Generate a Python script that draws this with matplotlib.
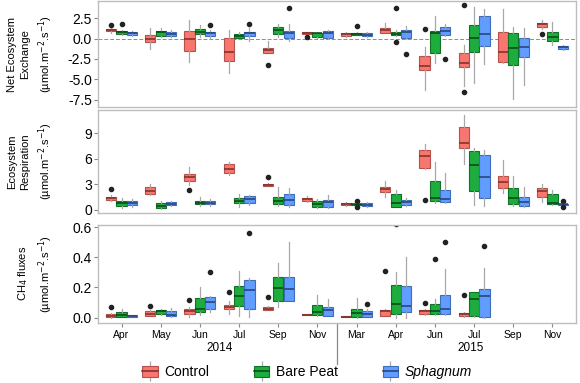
import matplotlib
matplotlib.use("Agg")
import matplotlib.pyplot as plt
from matplotlib.patches import Patch
from matplotlib.lines import Line2D
from matplotlib.legend_handler import HandlerTuple

plt.rcParams['font.family'] = ['Liberation Sans', 'DejaVu Sans']

months = ["Apr", "May", "Jun", "Jul", "Sep", "Nov", "Mar", "Apr", "Jun", "Jul", "Sep", "Nov"]
years = ["2014", "2015"]
treatments = ["Control", "Bare Peat", "Sphagnum"]

# each box: (whisker low, q1, median, q3, whisker high)
nee_control = [(0.63, 0.9, 1.07, 1.2, 1.44), (-1.32, -0.46, -0.02, 0.39, 1.24), (-2.83, -1.52, -0.06, 0.91, 2.26),
               (-4.17, -2.74, -1.68, 0.02, 1.04), (-1.8, -1.73, -1.4, -1.12, -0.3), (0.5, 0.55, 0.63, 0.75, 0.85),
               (0.2, 0.3, 0.5, 0.67, 0.8), (0.63, 0.71, 1.04, 1.28, 1.93), (-6.28, -3.84, -3.3, -2.1, -1.0),
               (-5.79, -3.51, -3.02, -1.73, -0.79), (-2.95, -2.83, -1.6, 0.83, 3.56), (1.2, 1.37, 1.73, 1.93, 2.25)]
nee_bare = [(0.4, 0.5, 0.75, 0.91, 1.0), (0.17, 0.3, 0.75, 0.91, 1.24), (0.2, 0.55, 0.8, 1.12, 1.6),
            (0.05, 0.1, 0.3, 0.51, 0.75), (0.17, 0.51, 1.04, 1.37, 1.77), (0.05, 0.14, 0.63, 0.7, 0.75),
            (0.4, 0.45, 0.55, 0.67, 0.75), (0.3, 0.39, 0.6, 0.79, 1.0), (-3.03, -1.8, 0.63, 0.95, 2.74),
            (-5.46, -1.6, 0.1, 1.65, 3.8), (-7.41, -3.23, -1.2, 0.63, 1.44), (-0.79, -0.3, 0.22, 0.83, 2.0)]
nee_sphag = [(0.3, 0.43, 0.63, 0.83, 0.95), (0.15, 0.3, 0.6, 0.83, 1.1), (0.0, 0.3, 0.65, 0.83, 1.1),
             (-0.27, 0.3, 0.63, 0.83, 1.24), (-0.27, 0.1, 0.63, 0.91, 1.77), (0.0, 0.1, 0.63, 0.91, 1.1),
             (0.15, 0.3, 0.45, 0.63, 0.8), (-0.1, 0.02, 0.75, 1.04, 1.5), (0.3, 0.46, 0.91, 1.44, 1.77),
             (-3.1, -0.91, 0.55, 2.74, 3.56), (-5.67, -2.3, -1.0, 0.1, 1.24), (-1.35, -1.24, -1.07, -0.91, -0.85)]
nee_out_control = {0: [1.65], 4: [-3.23], 5: [0.14], 8: [1.12], 9: [4.09, -6.56], 11: [0.51]}
nee_out_bare = {0: [1.77], 6: [1.56], 7: [3.76, -0.46]}
nee_out_sphag = {2: [1.65], 3: [1.77], 4: [3.68], 7: [-1.89], 8: [-2.54]}

reco_control = [(1.0, 1.17, 1.36, 1.55, 1.7), (1.7, 1.83, 2.22, 2.72, 3.0), (2.92, 3.38, 3.81, 4.16, 5.05),
                (4.08, 4.35, 4.78, 5.33, 5.64), (2.75, 2.8, 2.92, 3.07, 3.15), (0.95, 1.09, 1.24, 1.44, 1.6),
                (0.5, 0.58, 0.74, 0.85, 0.95), (1.56, 2.14, 2.45, 2.72, 3.38), (4.75, 4.94, 6.3, 7.0, 7.67),
                (5.33, 7.2, 7.78, 9.65, 11.08), (1.94, 2.6, 3.23, 4.0, 5.83), (0.97, 1.56, 2.22, 2.53, 3.0)]
reco_bare = [(0.2, 0.5, 0.78, 1.09, 1.4), (0.1, 0.19, 0.5, 0.85, 1.1), (0.5, 0.66, 0.86, 1.09, 1.5),
             (0.35, 0.78, 1.09, 1.44, 1.85), (0.5, 0.7, 1.09, 1.56, 2.72), (0.2, 0.31, 0.66, 1.05, 1.3),
             (0.6, 0.62, 0.66, 0.72, 0.75), (0.35, 0.39, 0.78, 1.83, 2.33), (0.85, 1.05, 1.36, 3.38, 5.56),
             (0.58, 2.22, 5.25, 6.88, 7.2), (0.47, 0.66, 1.36, 2.53, 4.0), (0.6, 0.7, 0.78, 1.83, 2.33)]
reco_sphag = [(0.4, 0.58, 0.82, 1.09, 1.3), (0.5, 0.58, 0.74, 0.97, 1.0), (0.5, 0.66, 0.86, 1.09, 1.3),
              (0.58, 0.78, 1.24, 1.67, 1.8), (0.39, 0.58, 1.17, 1.87, 2.53), (0.27, 0.39, 0.89, 1.17, 1.75),
              (0.4, 0.45, 0.62, 0.8, 0.95), (0.5, 0.58, 0.97, 1.17, 1.4), (0.78, 0.89, 1.28, 2.33, 4.28),
              (0.47, 1.36, 3.89, 6.42, 7.06), (0.39, 0.5, 0.89, 1.56, 2.72), (0.6, 0.62, 0.66, 0.72, 0.75)]
reco_out_control = {0: [2.4], 2: [2.33], 4: [3.89], 8: [1.17]}
reco_out_bare = {6: [1.05, 0.31]}
reco_out_sphag = {11: [1.09, 0.31]}

ch4_control = [(0.0, 0.005, 0.013, 0.024, 0.03), (0.008, 0.013, 0.026, 0.042, 0.05), (0.005, 0.024, 0.044, 0.059, 0.07),
               (0.026, 0.057, 0.068, 0.086, 0.107), (0.05, 0.05, 0.06, 0.07, 0.075), (0.015, 0.018, 0.02, 0.022, 0.025),
               (0.003, 0.005, 0.007, 0.009, 0.01), (0.013, 0.013, 0.046, 0.053, 0.06), (0.02, 0.026, 0.042, 0.053, 0.06),
               (0.005, 0.009, 0.022, 0.031, 0.04), None, None]
ch4_bare = [(0.003, 0.005, 0.02, 0.035, 0.057), (0.02, 0.026, 0.046, 0.053, 0.06), (0.02, 0.035, 0.057, 0.13, 0.2),
            (0.013, 0.075, 0.14, 0.207, 0.31), (0.07, 0.11, 0.195, 0.27, 0.36), (0.009, 0.02, 0.037, 0.081, 0.15),
            (0.0, 0.005, 0.031, 0.059, 0.13), (0.0, 0.026, 0.088, 0.213, 0.3), (0.02, 0.026, 0.044, 0.092, 0.12),
            (0.005, 0.009, 0.125, 0.167, 0.17), None, None]
ch4_sphag = [(0.003, 0.005, 0.01, 0.015, 0.02), (0.005, 0.009, 0.015, 0.042, 0.064), (0.035, 0.057, 0.103, 0.136, 0.14),
             (0.005, 0.057, 0.18, 0.246, 0.26), (0.107, 0.11, 0.19, 0.27, 0.5), (0.009, 0.013, 0.053, 0.07, 0.12),
             (0.005, 0.005, 0.026, 0.046, 0.06), (0.0, 0.037, 0.075, 0.21, 0.4), (0.02, 0.026, 0.057, 0.15, 0.32),
             (0.0, 0.005, 0.143, 0.19, 0.33), None, None]
ch4_out_control = {0: [0.07], 1: [0.075], 2: [0.117], 3: [0.17], 4: [0.136], 7: [0.31], 8: [0.094], 9: [0.152]}
ch4_out_bare = {7: [0.62], 8: [0.387]}
ch4_out_sphag = {2: [0.3], 3: [0.56], 6: [0.09], 8: [0.5], 9: [0.475]}

fills = ["#F8766D", "#1DAD3C", "#619CFF"]
edges = ["#B4524B", "#0F7325", "#3E6DBA"]
meds = ["#7A2E28", "#0A4416", "#243F70"]
whisk = "#A8A8A8"
border = "#BDBDBD"

fig = plt.figure(figsize=(5.8, 3.83), dpi=100)
L, R = 0.169, 0.993
ax1 = fig.add_axes([L, 0.721, R - L, 0.276])
ax2 = fig.add_axes([L, 0.444, R - L, 0.269])
ax3 = fig.add_axes([L, 0.157, R - L, 0.256])

panels = [
    (ax1, [nee_control, nee_bare, nee_sphag], [nee_out_control, nee_out_bare, nee_out_sphag],
     (-8.35, 4.57), [-7.5, -5.0, -2.5, 0.0, 2.5], "Net Ecosystem\nExchange\n(µmol.m$^{-2}$.s$^{-1}$)"),
    (ax2, [reco_control, reco_bare, reco_sphag], [reco_out_control, reco_out_bare, reco_out_sphag],
     (-0.35, 11.7), [0, 3, 6, 9], "Ecosystem\nRespiration\n(µmol.m$^{-2}$.s$^{-1}$)"),
    (ax3, [ch4_control, ch4_bare, ch4_sphag], [ch4_out_control, ch4_out_bare, ch4_out_sphag],
     (-0.035, 0.615), [0.0, 0.2, 0.4, 0.6], "CH$_4$ fluxes\n(µmol.m$^{-2}$.s$^{-1}$)"),
]

offsets = [-0.265, 0.0, 0.265]
for ax, series, outs, ylim, yt, ylab in panels:
    if ax is ax1:
        ax.axhline(0, color="#8C8C8C", lw=0.7, ls=(0, (4, 2)), zorder=0)
    for k in range(3):
        stats, pos = [], []
        for i, s in enumerate(series[k]):
            if s is None:
                continue
            lo, q1, med, q3, hi = s
            stats.append(dict(whislo=lo, q1=q1, med=med, q3=q3, whishi=hi, fliers=outs[k].get(i, [])))
            pos.append(i + offsets[k])
        ax.bxp(stats, positions=pos, widths=0.26, patch_artist=True, showcaps=False,
               boxprops=dict(facecolor=fills[k], edgecolor=edges[k], linewidth=0.8),
               medianprops=dict(color=meds[k], linewidth=1.1),
               whiskerprops=dict(color=whisk, linewidth=0.9),
               flierprops=dict(marker="o", markersize=3, markerfacecolor="#222222",
                               markeredgecolor="#222222"))
    ax.set_xlim(-0.6, 11.6)
    ax.set_ylim(*ylim)
    ax.set_yticks(yt)
    ax.tick_params(axis="y", labelsize=10, length=3, color="#888888", pad=1.5)
    ax.set_ylabel(ylab, fontsize=8, linespacing=1.45)
    ax.yaxis.set_label_coords(-0.09, 0.5)
    for sp in ax.spines.values():
        sp.set_color(border)
        sp.set_linewidth(1.0)
    ax.set_xticks(range(12))
    if ax is ax3:
        ax.set_xticklabels(months, fontsize=7.5)
        ax.tick_params(axis="x", length=3, color="#888888", pad=2)
    else:
        ax.set_xticklabels([])
        ax.tick_params(axis="x", length=0)

ax1.set_yticklabels(["-7.5", "-5.0", "-2.5", "0.0", "2.5"])
ax3.set_yticklabels(["0.0", "0.2", "0.4", "0.6"])

# year labels and separator
ax3.text(2.5, -0.2, years[0], transform=ax3.get_xaxis_transform(), ha="center", va="top", fontsize=8.5)
ax3.text(8.9, -0.2, years[1], transform=ax3.get_xaxis_transform(), ha="center", va="top", fontsize=8.5)
ax3.plot([5.5, 5.5], [0, -0.42], transform=ax3.get_xaxis_transform(), color="#888888", lw=0.9, clip_on=False)

handles = []
for k in range(3):
    handles.append((Line2D([], [], color=whisk, marker="|", markersize=14, linestyle="None", markeredgewidth=0.9),
                    Patch(facecolor=fills[k], edgecolor=edges[k], linewidth=0.8),
                    Line2D([], [], color=meds[k], lw=1.1)))
leg = fig.legend(handles, treatments, handler_map={tuple: HandlerTuple(ndivide=1)},
                 loc="center", bbox_to_anchor=(0.53, 0.028), ncol=3, frameon=False, fontsize=10,
                 handlelength=1.1, handleheight=0.9, columnspacing=3.2, handletextpad=0.5)
leg.get_texts()[2].set_style("italic")

fig.savefig("out.png", dpi=100)
